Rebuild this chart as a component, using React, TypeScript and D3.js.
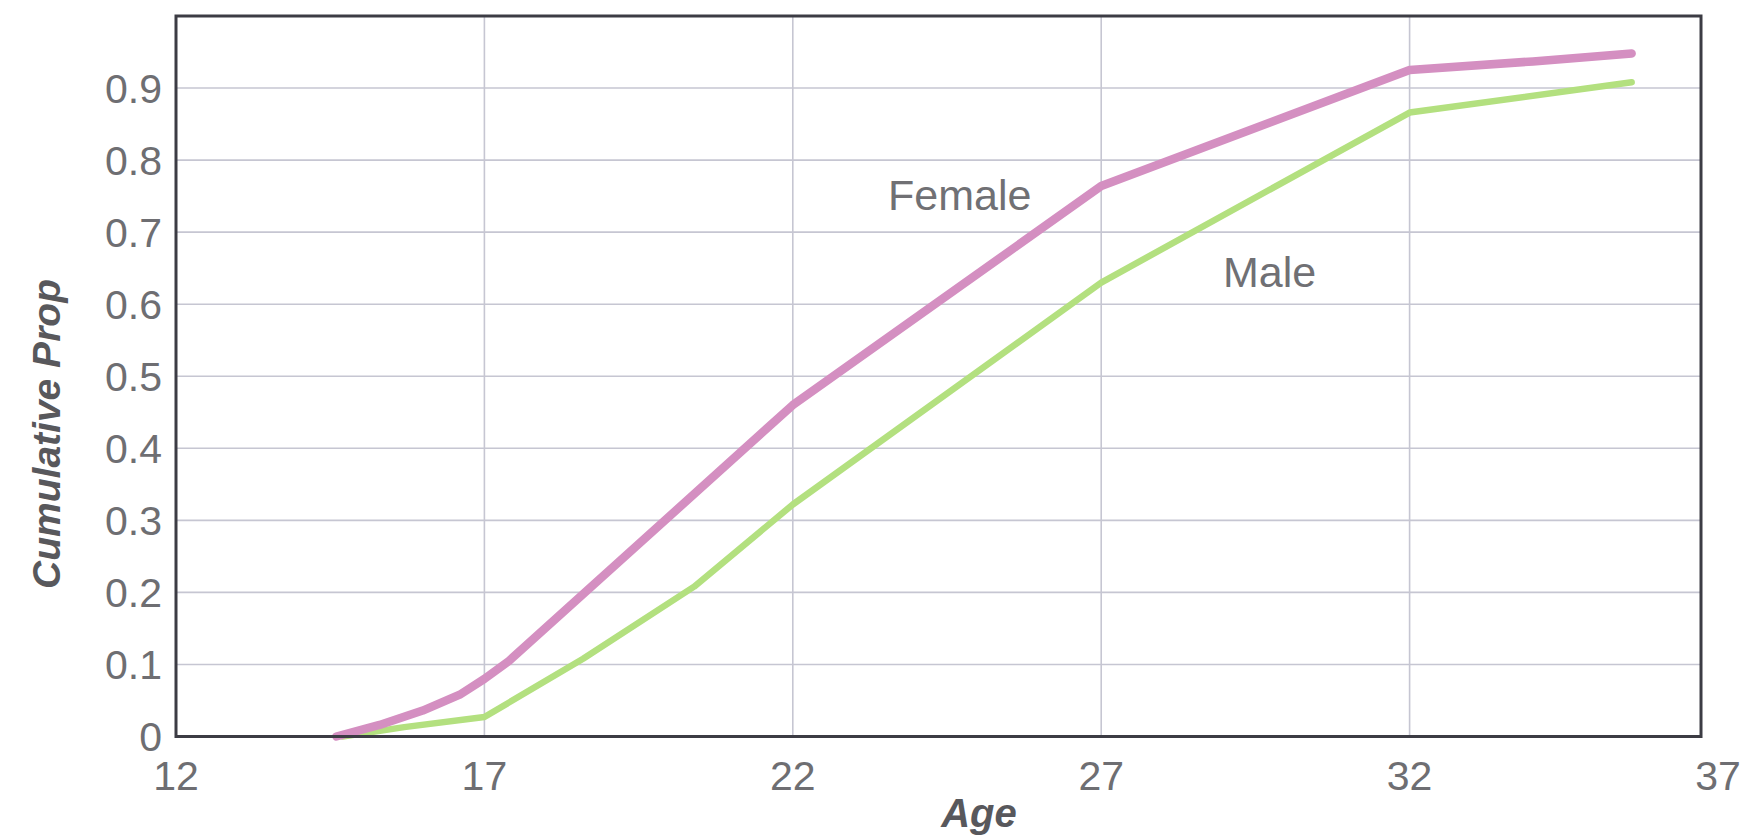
import React from "react";
import * as d3 from "d3";

const xTicks = [12, 17, 22, 27, 32, 37];
const yTicks = [0, 0.1, 0.2, 0.3, 0.4, 0.5, 0.6, 0.7, 0.8, 0.9];

const femaleAge = [14.6, 15.3, 16.0, 16.6, 17.0, 17.4, 22, 27, 32, 34, 35.6];
const femaleProp = [0, 0.016, 0.036, 0.058, 0.08, 0.105, 0.46, 0.764, 0.925, 0.937, 0.948];

const maleAge = [14.7, 15.7, 17, 18.6, 20.4, 22, 27, 32, 35.6];
const maleProp = [0, 0.013, 0.027, 0.108, 0.208, 0.322, 0.63, 0.866, 0.908];

const W = 1747;
const H = 837;
const left = 176;
const right = 1701;
const top = 16;
const bottom = 736.5;

export default function App() {
  const x = d3.scaleLinear().domain([12, 37]).range([left, 1718]);
  const y = d3.scaleLinear().domain([0, 1]).range([bottom, top]);
  const line = d3
    .line<[number, number]>()
    .x((d) => x(d[0]))
    .y((d) => y(d[1]))
    .curve(d3.curveLinear);

  const female: [number, number][] = femaleAge.map((a, i) => [a, femaleProp[i]]);
  const male: [number, number][] = maleAge.map((a, i) => [a, maleProp[i]]);

  const font = "Arial, 'Liberation Sans', Helvetica, sans-serif";

  return (
    <svg
      width={W}
      height={H}
      style={{ position: "absolute", left: 0, top: 0, background: "#fff" }}
    >
      <rect x={0} y={0} width={W} height={H} fill="#ffffff" />
      {yTicks
        .filter((t) => t > 0)
        .map((t) => (
          <line
            key={"gy" + t}
            x1={left}
            x2={right}
            y1={y(t)}
            y2={y(t)}
            stroke="#c6c6d2"
            strokeWidth={1.6}
          />
        ))}
      {xTicks
        .filter((t) => x(t) > left + 2 && x(t) < right - 2)
        .map((t) => (
          <line
            key={"gx" + t}
            x1={x(t)}
            x2={x(t)}
            y1={top}
            y2={bottom}
            stroke="#c6c6d2"
            strokeWidth={1.6}
          />
        ))}
      <path
        d={line(male) || ""}
        fill="none"
        stroke="#b3e07f"
        strokeWidth={6.5}
        strokeLinejoin="round"
        strokeLinecap="round"
      />
      <path
        d={line(female) || ""}
        fill="none"
        stroke="#d48fc1"
        strokeWidth={8.5}
        strokeLinejoin="round"
        strokeLinecap="round"
      />
      <rect
        x={left}
        y={top}
        width={right - left}
        height={bottom - top}
        fill="none"
        stroke="#3c3c44"
        strokeWidth={3}
      />
      {yTicks.map((t) => (
        <text
          key={"yl" + t}
          x={162}
          y={y(t)}
          dy="0.36em"
          textAnchor="end"
          fontFamily={font}
          fontSize={41}
          fill="#6e6e72"
        >
          {t === 0 ? "0" : d3.format(".1f")(t)}
        </text>
      ))}
      {xTicks.map((t) => (
        <text
          key={"xl" + t}
          x={x(t)}
          y={790}
          textAnchor="middle"
          fontFamily={font}
          fontSize={41}
          fill="#6e6e72"
        >
          {t}
        </text>
      ))}
      <text
        x={979}
        y={827}
        textAnchor="middle"
        fontFamily={font}
        fontSize={40}
        fontWeight="bold"
        fontStyle="italic"
        fill="#58585c"
      >
        Age
      </text>
      <text
        transform={`translate(60, 434) rotate(-90)`}
        textAnchor="middle"
        fontFamily={font}
        fontSize={39}
        fontWeight="bold"
        fontStyle="italic"
        fill="#58585c"
      >
        Cumulative Prop
      </text>
      <text x={888} y={210} fontFamily={font} fontSize={43} fill="#707074">
        Female
      </text>
      <text x={1223} y={287} fontFamily={font} fontSize={43} fill="#707074">
        Male
      </text>
    </svg>
  );
}
